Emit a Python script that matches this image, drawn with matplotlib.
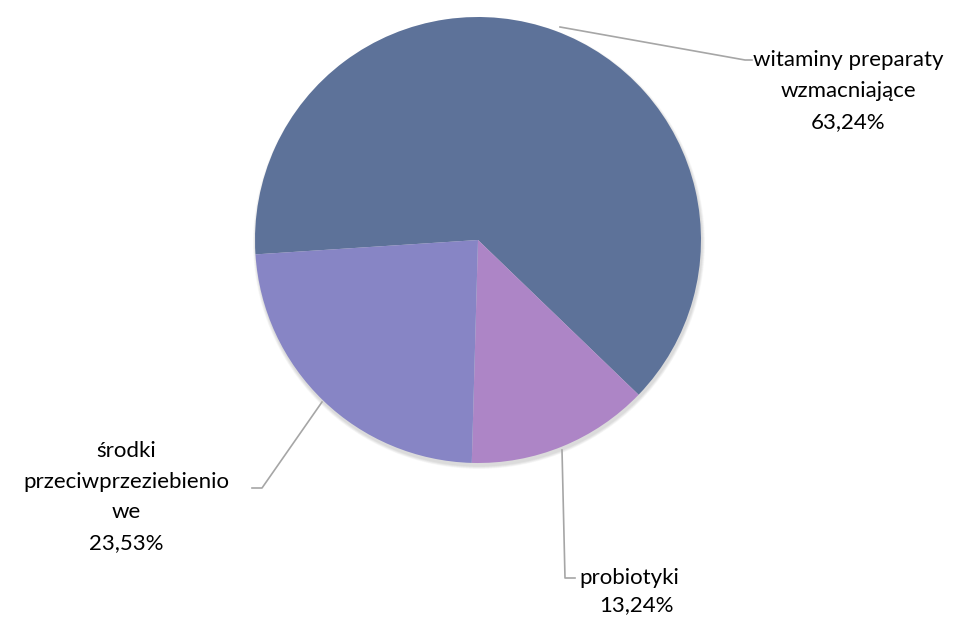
import matplotlib
matplotlib.use("Agg")
import matplotlib.pyplot as plt
from matplotlib.patches import Ellipse

labels = ["witaminy preparaty\nwzmacniające", "probiotyki", "środki\nprzeciwprzeziebienio\nwe"]
values = [63.24, 13.24, 23.53]
pct_text = ["63,24%", "13,24%", "23,53%"]
colors = ["#5D7299", "#AD85C6", "#8785C5"]

plt.rcParams['font.family'] = ['Lato', 'DejaVu Sans']

fig = plt.figure(figsize=(9.7, 6.17), dpi=100)
ax = fig.add_axes([0, 0, 1, 1])

cx, cy, r = 478, 377, 223

# soft shadow under the pie
for k in range(6):
    ax.add_patch(Ellipse((cx + 1, cy - 3), 2 * r + 6 - k, 2 * r + 6 - k,
                         color='#000000', alpha=0.025, lw=0, zorder=1))

wedges, _ = ax.pie(values, colors=colors, startangle=183.7, counterclock=False,
                   center=(cx, cy), radius=r, frame=True,
                   wedgeprops=dict(linewidth=0, zorder=2))
ax.set_xlim(0, 970)
ax.set_ylim(0, 617)
ax.set_aspect('equal')
ax.axis('off')

line_kw = dict(color='#A6A6A6', lw=1.2, zorder=3)
# leader lines
ax.plot([560, 745, 752], [590, 557, 557], **line_kw)
ax.plot([562, 565, 575], [167, 39, 39], **line_kw)
ax.plot([322, 262, 252], [215, 129, 129], **line_kw)

fs = 16
ax.text(848, 617 - 91, labels[0] + "\n" + pct_text[0], ha='center', va='center',
        fontsize=fs, linespacing=1.68, color='#000000')
ax.text(579, 617 - 578, labels[1], ha='left', va='center', fontsize=fs, color='#000000')
ax.text(636, 617 - 605, pct_text[1], ha='center', va='center', fontsize=fs, color='#000000')
ax.text(126, 617 - 497, labels[2] + "\n" + pct_text[2], ha='center', va='center',
        fontsize=fs, linespacing=1.68, color='#000000')

fig.savefig("out.png", dpi=100, facecolor='white')
